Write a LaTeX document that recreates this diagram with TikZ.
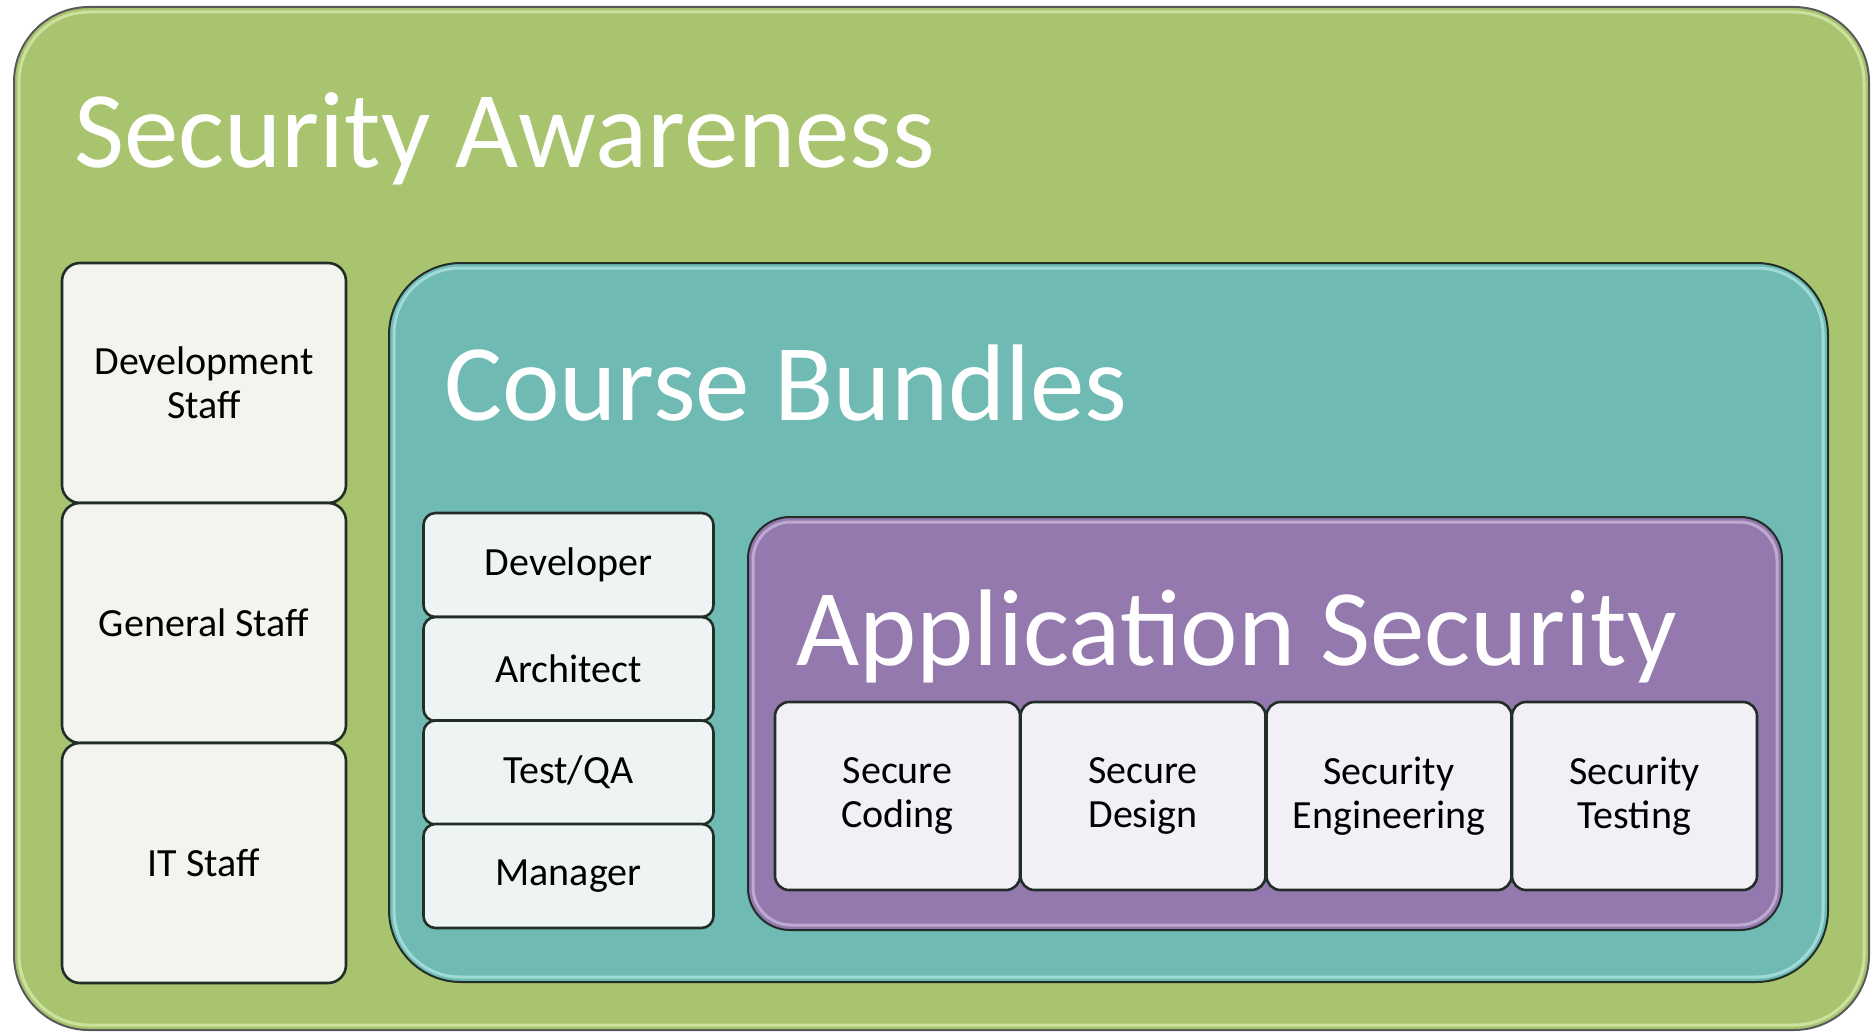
\documentclass[tikz,border=0pt]{standalone}
\usepackage{fontspec}
\setmainfont{Carlito}
\definecolor{greenfill}{RGB}{169,196,111}
\definecolor{greenhi}{RGB}{236,250,200}
\definecolor{tealfill}{RGB}{111,186,179}
\definecolor{tealhi}{RGB}{200,245,245}
\definecolor{purplefill}{RGB}{147,121,173}
\definecolor{purplehi}{RGB}{225,210,240}
\definecolor{edge}{RGB}{35,45,40}
\definecolor{staffill}{RGB}{243,244,238}
\definecolor{coursefill}{RGB}{238,244,244}
\definecolor{appfill}{RGB}{242,240,246}
\begin{document}
\begin{tikzpicture}[x=1pt,y=-1pt,
  container/.style={draw=edge, line width=2pt, inner sep=0pt},
  titletext/.style={anchor=base west, inner sep=0pt, text=white, font=\fontsize{109}{114}\selectfont},
  cell/.style={draw=edge, line width=2.6pt, inner sep=0pt, align=center, font=\fontsize{40}{44}\selectfont, text=black},
  staffcell/.style={cell, fill=staffill, rounded corners=18pt, minimum width=284pt, minimum height=240pt},
  coursecell/.style={cell, fill=coursefill, rounded corners=12pt, minimum width=290pt, minimum height=104pt},
  appcell/.style={cell, fill=appfill, rounded corners=14pt, minimum width=245pt, minimum height=188pt},
  hilite/.style={line width=3pt, opacity=0.55}
]
\useasboundingbox (0,0) rectangle (1871,1033);
% outer container
\node[container, fill=greenfill, draw=gray!70!black, rounded corners=75pt, minimum width=1855pt, minimum height=1023pt] (aware) at (941.5,518.5) {};
\draw[hilite, draw=greenhi, rounded corners=70pt] ([shift={(6,6)}]aware.north west) rectangle ([shift={(-6,-6)}]aware.south east);
\node[titletext] (awaretitle) at (74,167) {Security Awareness};
% staff boxes
\node[staffcell] (dev) at (204,383) {Development\\Staff};
\node[staffcell] (gen) at (204,623) {General Staff};
\node[staffcell] (it) at (204,863) {IT Staff};
% course bundles
\node[container, fill=tealfill, rounded corners=72pt, minimum width=1439pt, minimum height=719pt] (course) at (1108.5,622.5) {};
\draw[hilite, draw=tealhi, rounded corners=66pt] ([shift={(6,6)}]course.north west) rectangle ([shift={(-6,-6)}]course.south east);
\node[titletext] (coursetitle) at (444,420) {Course Bundles};
\node[coursecell] (devr) at (568.5,565) {Developer};
\node[coursecell] (arch) at (568.5,669) {Architect};
\node[coursecell] (test) at (568.5,772.5) {Test/QA};
\node[coursecell] (mgr) at (568.5,876) {Manager};
% application security
\node[container, fill=purplefill, rounded corners=42pt, minimum width=1034pt, minimum height=413pt] (app) at (1265,723.5) {};
\draw[hilite, draw=purplehi, rounded corners=38pt] ([shift={(6,6)}]app.north west) rectangle ([shift={(-6,-6)}]app.south east);
\node[titletext] (apptitle) at (796,665) {Application Security};
\node[appcell] (coding) at (897.5,796) {Secure\\Coding};
\node[appcell] (design) at (1143,796) {Secure\\Design};
\node[appcell] (eng) at (1389,796) {Security\\Engineering};
\node[appcell] (testing) at (1634.5,796) {Security\\Testing};
\end{tikzpicture}
\end{document}
